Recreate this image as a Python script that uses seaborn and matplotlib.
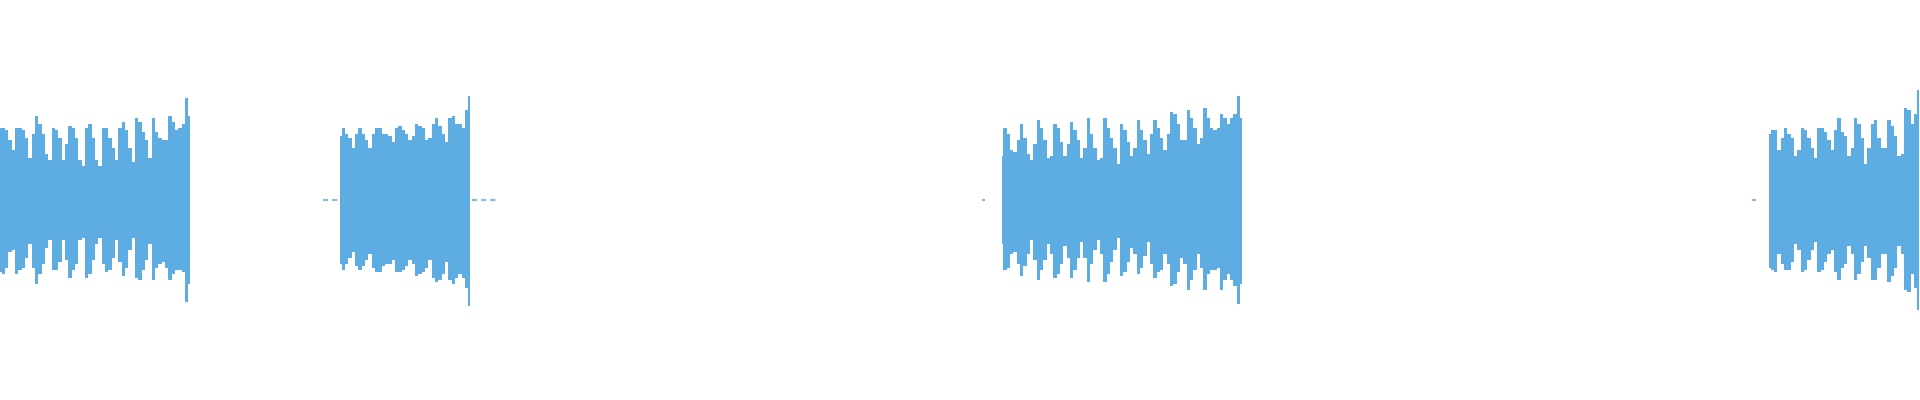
import numpy as np
import pandas as pd
import matplotlib
matplotlib.use("Agg")
import matplotlib.pyplot as plt
import seaborn as sns

# ---- data: waveform envelope (normalised amplitude, -1..1), time in ms ----
seg1_span = (0.0, 190.0)
seg1_top = [.36, .36, .35, .30, .25, .36, .36, .35, .31, .21, .33, .42, .38, .33, .23, .20,
            .36, .35, .31, .20, .28, .37, .36, .31, .20, .17, .36, .38, .31, .20, .17, .36,
            .36, .31, .26, .20, .36, .39, .35, .26, .19, .41, .39, .34, .30, .21, .41, .34,
            .31, .30, .30, .42, .39, .35, .36, .38, .51, .42]
seg1_bot = [-.36, -.37, -.34, -.26, -.25, -.37, -.35, -.34, -.29, -.22, -.34, -.42, -.37, -.32,
            -.24, -.20, -.35, -.35, -.31, -.20, -.30, -.39, -.35, -.32, -.20, -.19, -.39, -.37,
            -.30, -.22, -.19, -.32, -.36, -.35, -.29, -.20, -.31, -.38, -.34, -.25, -.19, -.39,
            -.40, -.35, -.30, -.22, -.40, -.34, -.32, -.31, -.34, -.40, -.37, -.35, -.35, -.36,
            -.51, -.42]

seg2_span = (340.0, 470.0)
seg2_top = [.32, .36, .33, .31, .26, .33, .36, .33, .30, .26, .33, .36, .36, .33, .33, .32,
            .29, .36, .37, .35, .33, .30, .32, .38, .37, .36, .30, .31, .38, .41, .37, .33,
            .29, .41, .42, .38, .38, .36, .45, .52]
seg2_bot = [-.32, -.35, -.32, -.29, -.26, -.33, -.35, -.33, -.30, -.27, -.34, -.36, -.36, -.33,
            -.32, -.32, -.30, -.36, -.36, -.35, -.33, -.30, -.32, -.38, -.37, -.36, -.34, -.30,
            -.39, -.41, -.40, -.37, -.31, -.40, -.42, -.39, -.37, -.39, -.44, -.53]

seg3_span = (1001.7, 1241.7)
seg3_top = [.22, .36, .33, .25, .24, .30, .38, .31, .23, .20, .28, .40, .36, .30, .21, .22,
            .38, .36, .29, .22, .28, .39, .35, .30, .21, .26, .41, .33, .26, .20, .21, .41,
            .36, .31, .26, .18, .38, .35, .29, .22, .26, .40, .35, .30, .23, .33, .40, .36,
            .31, .25, .33, .44, .43, .38, .30, .30, .45, .41, .36, .28, .31, .46, .41, .36,
            .35, .36, .43, .41, .38, .41, .43, .52, .41]
seg3_bot = [-.22, -.35, -.34, -.27, -.26, -.32, -.38, -.33, -.27, -.20, -.30, -.40, -.35, -.30,
            -.22, -.27, -.39, -.37, -.32, -.23, -.29, -.39, -.35, -.29, -.21, -.29, -.41, -.32,
            -.25, -.20, -.27, -.41, -.37, -.31, -.25, -.19, -.38, -.36, -.31, -.24, -.27, -.37,
            -.34, -.28, -.21, -.32, -.39, -.36, -.35, -.27, -.32, -.43, -.42, -.36, -.29, -.32,
            -.45, -.40, -.35, -.27, -.34, -.45, -.37, -.35, -.35, -.34, -.45, -.40, -.37, -.40,
            -.43, -.52, -.42]

seg4_span = (1769.0, 1919.0)
seg4_top = [.33, .35, .35, .25, .31, .36, .33, .31, .22, .25, .36, .35, .31, .26, .21, .36,
            .36, .34, .30, .25, .35, .41, .34, .32, .22, .26, .41, .38, .31, .18, .26, .38,
            .40, .31, .26, .26, .40, .37, .32, .22, .23, .46, .45, .38, .43, .55]
seg4_bot = [-.34, -.35, -.36, -.27, -.32, -.35, -.35, -.31, -.22, -.25, -.36, -.35, -.30, -.25,
            -.21, -.36, -.35, -.31, -.27, -.25, -.36, -.40, -.34, -.32, -.23, -.27, -.40, -.37,
            -.31, -.23, -.29, -.40, -.40, -.34, -.27, -.27, -.41, -.38, -.34, -.23, -.27, -.45,
            -.46, -.37, -.44, -.55]

# near-silent stretches (low-level noise rendered as broken line)
quiet_spans = [(323.0, 338.0), (472.0, 498.0), (982.0, 984.5), (1751.5, 1755.5)]

WAVE_COLOR = "#5DADE2"

sns.set_theme(style="white")
fig = plt.figure(figsize=(19.2, 4.0), dpi=100)
ax = fig.add_axes([0, 0, 1, 1])

segments = [(seg1_span, seg1_top, seg1_bot), (seg2_span, seg2_top, seg2_bot),
            (seg3_span, seg3_top, seg3_bot), (seg4_span, seg4_top, seg4_bot)]
for (t0, t1), top, bot in segments:
    t = np.linspace(t0, t1, len(top))
    ax.fill_between(t, bot, top, step="mid", color=WAVE_COLOR, linewidth=0,
                    antialiased=False)

for i, (q0, q1) in enumerate(quiet_spans):
    df = pd.DataFrame({"t": [q0, q1], "a": [0.0, 0.0]})
    sns.lineplot(data=df, x="t", y="a", ax=ax, color=WAVE_COLOR, linewidth=1.2,
                 dashes=(3, 2.5), legend=False)

ax.set_xlim(0, 1920)
ax.set_ylim(-1, 1)
ax.set_axis_off()
fig.patch.set_facecolor("white")
fig.savefig("out.png", dpi=100, facecolor="white")
